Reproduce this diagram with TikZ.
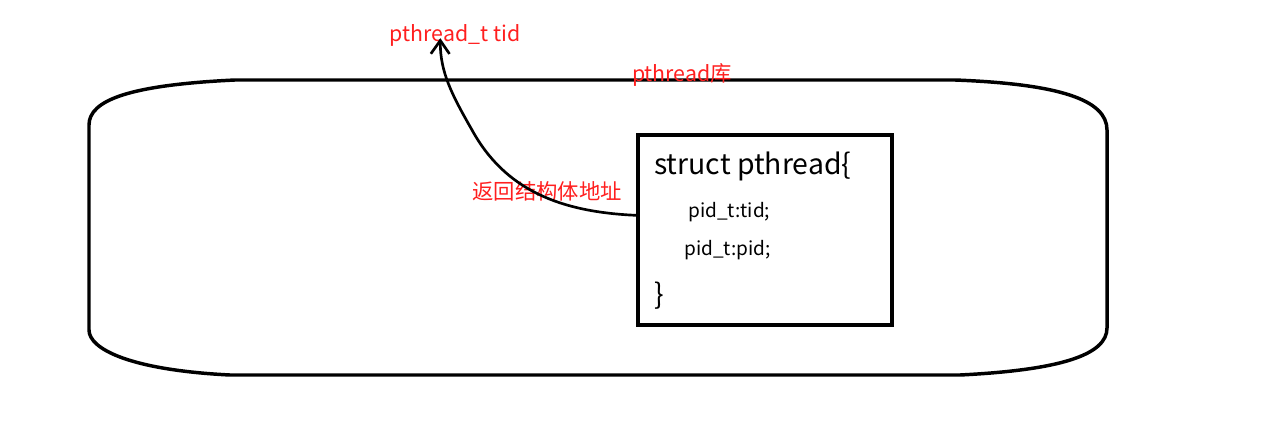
\documentclass[tikz,border=0pt]{standalone}
\usepackage{fontspec}
\setmainfont{Noto Sans CJK SC}
\usepackage{xcolor}
\usepackage{tikz}
\usetikzlibrary{arrows.meta, positioning, calc}
\definecolor{notered}{HTML}{FF1F1F}
\definecolor{penink}{HTML}{000000}

\begin{document}
\begin{tikzpicture}[
  x=0.75pt, y=-0.75pt,
  outline/.style={draw=penink, line width=2.6pt},
  structbox/.style={
    draw=penink,
    line width=2.5pt,
    minimum width=190.5pt,
    minimum height=142.5pt,
    inner sep=0pt
  },
  note/.style={text=notered, font=\fontsize{16}{19}\selectfont, inner sep=0pt},
  codebig/.style={font=\fontsize{21.3}{25}\selectfont, inner sep=0pt, anchor=west},
  codesmall/.style={font=\fontsize{14.3}{17}\selectfont, inner sep=0pt, anchor=west},
  flow/.style={-{Straight Barb[length=10pt, width=14pt]}, line width=2pt, draw=penink}
]
\useasboundingbox (0,0) rectangle (1280,428);

% the library, drawn by hand as a long box with flat oval ends
\draw[outline] (89,125) .. controls (89,100) and (130,85) .. (235,80)
  -- (955,80) .. controls (1060,84) and (1107,100) .. (1107,130)
  -- (1107,328) .. controls (1107,355) and (1060,370) .. (960,375)
  -- (230,375) .. controls (130,370) and (89,349) .. (89,330)
  -- cycle;

\node[note] (lib) at (682,75) {pthread库};
\node[note] (tid) at (455,35) {pthread\_t tid};
\node[note] (ret) at (547,191) {返回结构体地址};

\node[structbox] (box) at (765,230) {};
\node[codebig] (l1) at (654,166) {struct pthread\{};
\node[codesmall] (l2) at (688,212) {pid\_t:tid;};
\node[codesmall] (l3) at (684,250) {pid\_t:pid;};
\node[codebig] (l4) at (654,296) {\}};

\draw[flow] ([yshift=11pt]box.west) .. controls (560,212) and (505,190) .. (472,130)
  .. controls (452,95) and (440,72) .. ([xshift=-11pt,yshift=6pt]tid.south);

\end{tikzpicture}
\end{document}
